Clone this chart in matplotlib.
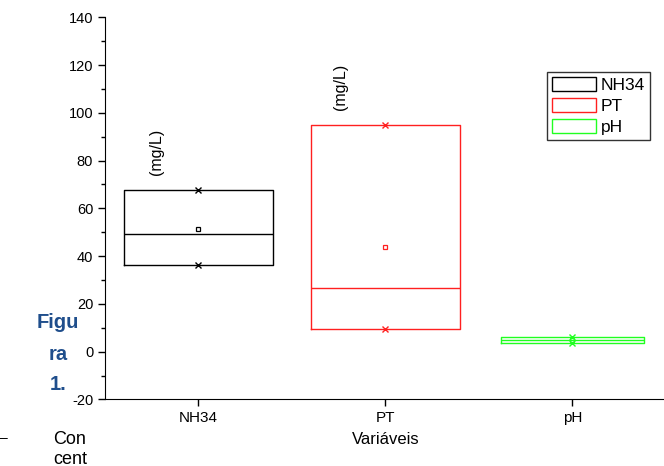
import matplotlib
matplotlib.use("Agg")
import matplotlib.pyplot as plt
from matplotlib.patches import Rectangle

plt.rcParams['font.family'] = ['Liberation Sans', 'DejaVu Sans']
plt.rcParams['axes.unicode_minus'] = False

categories = ["NH34", "PT", "pH"]
q1 = [36.2, 9.5, 3.5]
q3 = [67.8, 94.9, 6.1]
med = [49.3, 26.8, 4.9]
means = [51.4, 43.8, 4.9]
vmin = [36.2, 9.5, 3.8]
vmax = [67.8, 94.9, 6.0]
colors = ["black", "#ff2020", "#20ff20"]
widths = [0.8, 0.8, 0.76]
unit_label = "(mg/L)"
unit_x = [0.773, 1.757]
unit_y = [83.6, 110.8]

fig = plt.figure(figsize=(6.64, 4.66), dpi=100)
ax = fig.add_axes([105/664, 1-399.4/466, 1-105/664+0.003, (399.4-17.3)/466])

pos = [1, 2, 3]
for i, c in enumerate(categories):
    stats = [dict(med=med[i], q1=q1[i], q3=q3[i], whislo=q1[i], whishi=q3[i],
                  mean=means[i], fliers=[], label=c)]
    ax.bxp(stats, positions=[pos[i]], widths=widths[i], showcaps=False, showfliers=False,
           showmeans=True,
           boxprops=dict(color=colors[i], linewidth=1),
           medianprops=dict(color=colors[i], linewidth=1),
           whiskerprops=dict(color=colors[i], linewidth=1),
           meanprops=dict(marker='s', markersize=3.5, markerfacecolor='none',
                          markeredgecolor=colors[i], markeredgewidth=0.9),
           manage_ticks=False)
    ax.plot([pos[i], pos[i]], [vmin[i], vmax[i]], linestyle='none', marker='x',
            markersize=4, color=colors[i], markeredgewidth=1)

for ux, uy in zip(unit_x, unit_y):
    ax.text(ux, uy, unit_label, rotation=90, ha='center', va='center', fontsize=11.5)

ax.set_xlim(0.5, 3.5)
ax.set_ylim(-20, 140)
ax.set_xticks(pos)
ax.set_xticklabels(categories, fontsize=11)
ax.set_yticks(range(-20, 141, 20))
ax.set_yticks(range(-10, 141, 20), minor=True)
ax.tick_params(axis='both', which='major', direction='out', length=5, width=1)
ax.tick_params(axis='y', which='major', labelsize=10.5)
ax.tick_params(axis='y', which='minor', direction='out', length=3, width=1)
ax.spines['top'].set_visible(False)
ax.spines['right'].set_visible(False)
ax.set_xlabel("Variáveis", fontsize=12, labelpad=5)

handles = [Rectangle((0, 0), 1, 1, facecolor='none', edgecolor=c, linewidth=1) for c in colors]
leg = ax.legend(handles, categories, loc='upper left', bbox_to_anchor=((547-105)/561, 1-(72-17.3)/382),
                fontsize=12.5, frameon=True, fancybox=False, edgecolor='black',
                handlelength=2.5, handleheight=0.86, borderpad=0.3, labelspacing=0.27,
                handletextpad=0.3, borderaxespad=0)
leg.get_frame().set_linewidth(1)

fig.text(58/664, 1-323/466, "Figu", color='#1f4e8c', fontsize=14.5, fontweight='bold',
         ha='center', va='center')
fig.text(58/664, 1-354/466, "ra", color='#1f4e8c', fontsize=14.5, fontweight='bold',
         ha='center', va='center')
fig.text(58/664, 1-384/466, "1.", color='#1f4e8c', fontsize=14.5, fontweight='bold',
         ha='center', va='center')
fig.text(53/664, 1-440/466, "Con", color='black', fontsize=13, ha='left', va='center')
fig.text(53/664, 1-459/466, "cent", color='black', fontsize=13, ha='left', va='center')
fig.text(0/664, 1-438/466, "\u2013", color='black', fontsize=10, ha='left', va='center')

fig.savefig("out.png", dpi=100)
